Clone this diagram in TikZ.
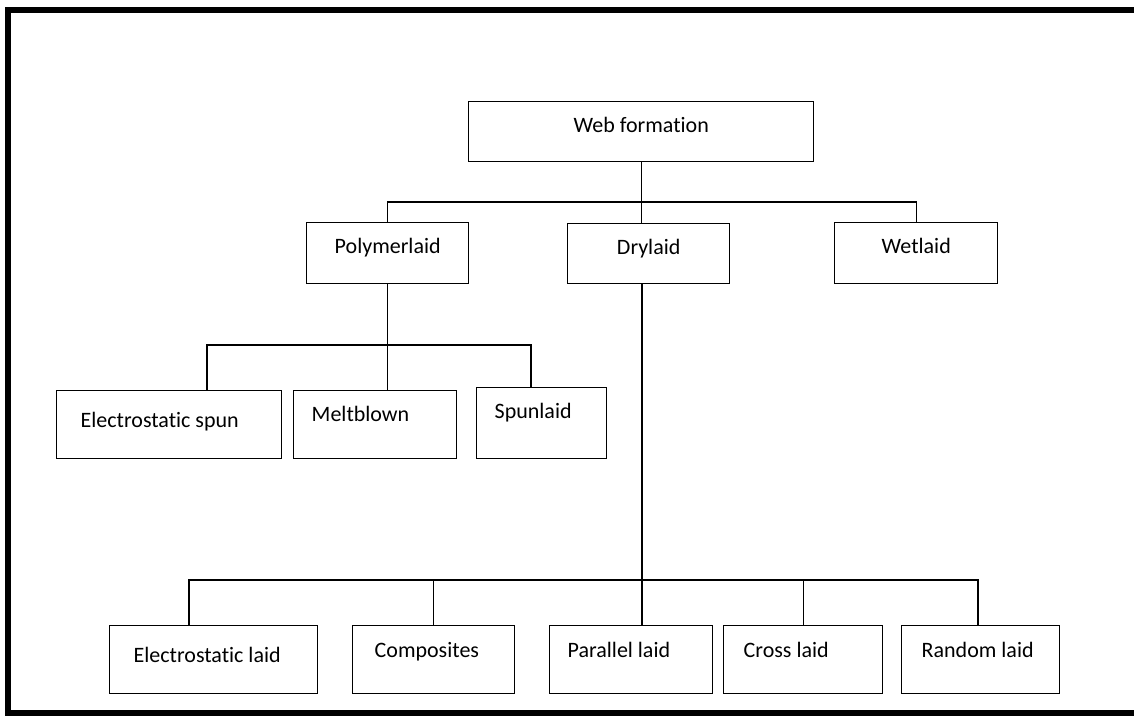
\documentclass[tikz,border=0pt]{standalone}
\usepackage{fontspec}
\setmainfont{Carlito}[Ligatures={NoCommon,NoContextual}, RawFeature={-liga;-clig}]
\tikzset{
  box/.style={draw, line width=1.4pt, anchor=north west, inner ysep=0pt,
    font=\fontsize{22}{26}\selectfont},
  midbox/.style={box, inner xsep=0pt, align=center},
  leftbox/.style={box, align=flush left},
  link/.style={line width=1.4pt},
  frame/.style={line width=5.5pt}
}

\begin{document}
\begin{tikzpicture}[x=1pt,y=-1pt]
  \useasboundingbox (0,0) rectangle (1134,715);
  \draw[frame] (1150,10) -- (8,10) -- (8,713) -- (1150,713);

  % top levels
  \node[midbox, minimum width=345pt, text height=31pt, text depth=29pt] (web) at (468,101) {Web formation};
  \node[midbox, minimum width=162pt, text height=31pt, text depth=30pt] (poly) at (306,222) {Polymerlaid};
  \node[midbox, minimum width=162pt, text height=31pt, text depth=29pt] (dry) at (567,223) {Drylaid};
  \node[midbox, minimum width=163pt, text height=31pt, text depth=30pt] (wet) at (834,222) {Wetlaid};

  % polymerlaid
  \node[leftbox, text width=177pt, inner xsep=24pt, text height=37pt, text depth=31pt] (espun) at (56,390) {Electrostatic spun};
  \node[leftbox, text width=127pt, inner xsep=18pt, text height=31pt, text depth=37pt] (melt) at (293,390) {Meltblown};
  \node[leftbox, text width=94pt, inner xsep=18pt, text height=31pt, text depth=40pt] (spun) at (476,387) {Spunlaid};

  % drylaid
  \node[leftbox, text width=160pt, inner xsep=24pt, text height=37pt, text depth=31pt] (elaid) at (109,625) {Electrostatic laid};
  \node[leftbox, text width=118pt, inner xsep=22pt, text height=32pt, text depth=36pt] (comp) at (352,625) {Composites};
  \node[leftbox, text width=127pt, inner xsep=18pt, text height=32pt, text depth=36pt] (par) at (549,625) {Parallel laid};
  \node[leftbox, text width=119pt, inner xsep=20pt, text height=32pt, text depth=36pt] (cross) at (723,625) {Cross laid};
  \node[leftbox, text width=118pt, inner xsep=20pt, text height=32pt, text depth=36pt] (rand) at (901,625) {Random laid};

  \coordinate (bus1) at (0,202);
  \draw[link] (web.south) -- (web.south |- dry.north);
  \draw[link] (poly.north) -- (poly.north |- bus1) -- (wet.north |- bus1) -- (wet.north);

  \coordinate (bus2l) at (207,345);
  \coordinate (bus2r) at (531,345);
  \draw[link] (poly.south) -- (poly.south |- melt.north);
  \draw[link] (bus2l |- espun.north) -- (bus2l) -- (bus2r) -- (bus2r |- spun.north);

  \coordinate (tap) at (642,0);
  \coordinate (bus3l) at (189,580);
  \coordinate (bus3r) at (978,580);
  \draw[link] (tap |- dry.south) -- (tap |- par.north);
  \draw[link] (bus3l |- elaid.north) -- (bus3l) -- (bus3r) -- (bus3r |- rand.north);
  \draw[link] (comp.north) -- (comp.north |- bus3l);
  \draw[link] (cross.north) -- (cross.north |- bus3l);
\end{tikzpicture}
\end{document}
